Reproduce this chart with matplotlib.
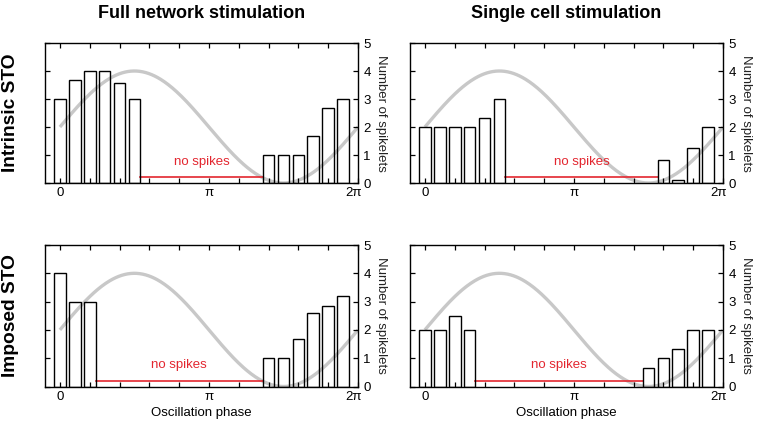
import numpy as np
import matplotlib.pyplot as plt
from matplotlib.transforms import ScaledTranslation

plt.rcParams['font.family'] = ['Liberation Sans', 'DejaVu Sans']

# spikelet counts per phase bin (20 bins of pi/10, bin centres from 0)
n_bins = 20
full_intrinsic = [3, 3.67, 4, 4, 3.57, 3, 0, 0, 0, 0, 0, 0, 0, 0, 1, 1, 1, 1.67, 2.67, 3]
single_intrinsic = [2, 2, 2, 2, 2.33, 3, 0, 0, 0, 0, 0, 0, 0, 0, 0, 0, 0.83, 0.12, 1.25, 2]
full_imposed = [4, 3, 3, 0, 0, 0, 0, 0, 0, 0, 0, 0, 0, 0, 1, 1, 1.67, 2.6, 2.83, 3.2]
single_imposed = [2, 2, 2.5, 2, 0, 0, 0, 0, 0, 0, 0, 0, 0, 0, 0, 0.67, 1, 1.33, 2, 2]

col_titles = ['Full network stimulation', 'Single cell stimulation']
row_titles = ['Intrinsic STO', 'Imposed STO']

# reference STO drawn behind the histogram
sto_offset = 2
sto_amp = 2

red = '#e3262f'
grey = '#c8c8c8'

fig = plt.figure(figsize=(7.57, 4.23), dpi=100)
W, H = 757, 423

lefts = [45, 410]
tops = [43, 245]
bottoms = [183, 386.5]
aw = 313

data = [[full_intrinsic, single_intrinsic], [full_imposed, single_imposed]]

binw = np.pi / 10
centers = np.arange(n_bins) * binw
w = 0.78 * binw
phase = np.linspace(0, 2 * np.pi, 300)

for r in range(2):
    for c in range(2):
        ax = fig.add_axes([lefts[c] / W, 1 - bottoms[r] / H, aw / W, (bottoms[r] - tops[r]) / H])
        vals = np.array(data[r][c], dtype=float)
        nz = vals > 0
        ax.plot(phase, sto_offset + sto_amp * np.sin(phase), color=grey, lw=2.4, zorder=1,
                solid_capstyle='butt')
        ax.bar(centers[nz], vals[nz], width=w, facecolor='none', edgecolor='black',
               linewidth=1.0, zorder=3)
        zeros = np.where(~nz)[0]
        x0 = centers[zeros[0] - 1] + w / 2
        x1 = centers[zeros[-1] + 1] - w / 2
        ax.plot([x0, x1], [0.2, 0.2], color=red, lw=1.2, zorder=2)
        ax.text((x0 + x1) / 2, 0.55, 'no spikes', color=red, ha='center', va='bottom',
                fontsize=9.5)

        ax.set_xlim(-np.pi / 10, 2 * np.pi)
        ax.set_ylim(0, 5)
        ax.set_xticks([0, np.pi, 2 * np.pi], ['0', 'π', '2π'])
        ax.set_xticks(np.arange(11) * np.pi / 5, minor=True)
        ax.set_yticks(range(6))
        ax.tick_params(which='both', direction='in', top=True, bottom=True, left=True,
                       right=True, labelleft=False, labelright=True, length=3.5,
                       width=0.9, labelsize=9.5)
        ax.tick_params(axis='x', pad=3.2)
        ax.tick_params(axis='y', pad=3.8)
        # keep "2π" clear of the y tick label "0"
        lbl = ax.get_xticklabels()[-1]
        lbl.set_horizontalalignment('right')
        lbl.set_transform(lbl.get_transform() + ScaledTranslation(3.5 / 100, 0, fig.dpi_scale_trans))
        for s in ax.spines.values():
            s.set_linewidth(1.0)
        ax.yaxis.set_label_position('right')
        ax.set_ylabel('Number of spikelets', rotation=270, va='bottom', fontsize=9.5,
                      labelpad=3, color='#222222')
        if r == 1:
            ax.set_xlabel('Oscillation phase', fontsize=9.5, labelpad=3)
        if r == 0:
            fig.text((lefts[c] + aw / 2) / W, 1 - 13 / H, col_titles[c], ha='center',
                     va='center', fontsize=13, fontweight='bold')

fig.text(10.5 / W, 1 - 113 / H, row_titles[0], rotation=90, ha='center', va='center',
         fontsize=13.8, fontweight='bold')
fig.text(10.5 / W, 1 - 316 / H, row_titles[1], rotation=90, ha='center', va='center',
         fontsize=13.8, fontweight='bold')

fig.savefig('out.png', dpi=100)
